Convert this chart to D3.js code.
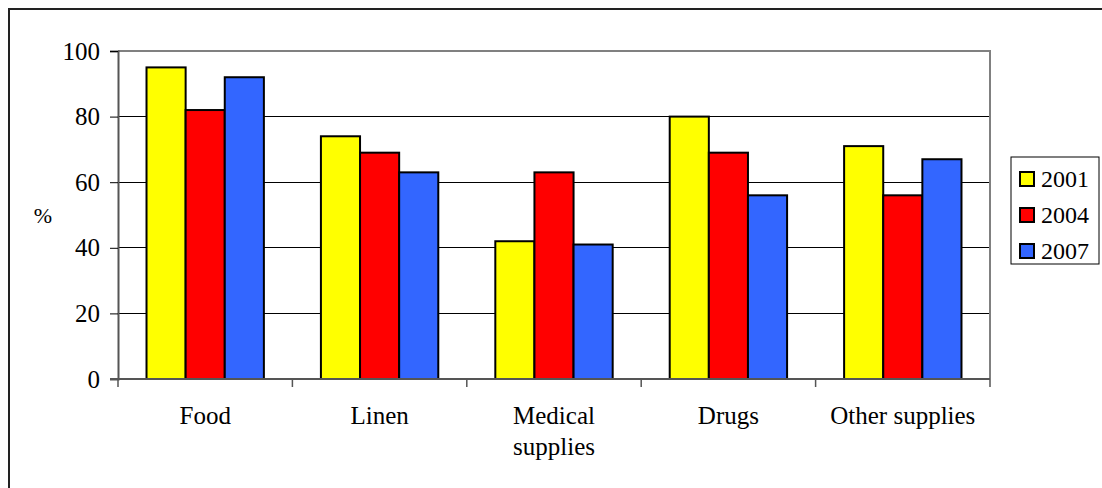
<!DOCTYPE html>
<html>
<head>
<meta charset="utf-8">
<script src="https://cdn.jsdelivr.net/npm/d3@7"></script>
<style>
  html, body { margin: 0; padding: 0; background: #fff; }
  svg { display: block; }
  svg text { font-family: "Liberation Serif", "Times New Roman", serif !important; fill: #000; }
</style>
</head>
<body>
<svg id="chart" width="1102" height="488"></svg>
<script>
// Share of items supplied, by category and survey year (%)
const categories = ["Food", "Linen", "Medical supplies", "Drugs", "Other supplies"];
const years = ["2001", "2004", "2007"];
const values2001 = [95, 74, 42, 80, 71];
const values2004 = [82, 69, 63, 69, 56];
const values2007 = [92, 63, 41, 56, 67];
const yTicks = [0, 20, 40, 60, 80, 100];
const colors = ["#FFFF00", "#FF0000", "#3366FF"];

const seriesValues = [values2001, values2004, values2007];
const rows = categories.map((c, i) => ({
  category: c,
  values: years.map((y, j) => ({ year: y, value: seriesValues[j][i], color: colors[j] }))
}));

const svg = d3.select("#chart");
const margin = { left: 118, right: 1102 - 990, top: 51, bottom: 488 - 379 };
const width = 1102, height = 488;

// Outer frame (top and left edges visible)
svg.append("path")
  .attr("d", `M9,${height} L9,9 L${width},9`)
  .attr("fill", "none").attr("stroke", "#222").attr("stroke-width", 2);

const x0 = d3.scaleBand()
  .domain(categories)
  .range([margin.left, width - margin.right])
  .paddingInner(0.327).paddingOuter(0.1635);
const x1 = d3.scaleBand().domain(years).range([0, x0.bandwidth()]);
const y = d3.scaleLinear().domain([0, 100]).range([height - margin.bottom, margin.top]);

// Horizontal gridlines
svg.append("g").selectAll("line")
  .data(yTicks.filter(t => t > 0 && t < 100))
  .join("line")
  .attr("x1", margin.left).attr("x2", width - margin.right)
  .attr("y1", d => y(d)).attr("y2", d => y(d))
  .attr("stroke", "#000").attr("stroke-width", 1).attr("shape-rendering", "crispEdges");

// Plot area frame (top and right)
svg.append("path")
  .attr("d", `M${margin.left},${y(100)} L${width - margin.right},${y(100)} L${width - margin.right},${y(0)}`)
  .attr("fill", "none").attr("stroke", "#808080").attr("stroke-width", 2);

// Bars
svg.append("g").selectAll("g")
  .data(rows)
  .join("g")
  .attr("transform", d => `translate(${x0(d.category)},0)`)
  .selectAll("rect")
  .data(d => d.values)
  .join("rect")
  .attr("x", d => x1(d.year))
  .attr("width", x1.bandwidth())
  .attr("y", d => y(d.value))
  .attr("height", d => y(0) - y(d.value))
  .attr("fill", d => d.color)
  .attr("stroke", "#000").attr("stroke-width", 2);

// Y axis
const yAxis = svg.append("g")
  .attr("transform", `translate(${margin.left},0)`)
  .call(d3.axisLeft(y).tickValues(yTicks).tickSize(8).tickPadding(10).tickFormat(d3.format("d")));
yAxis.select(".domain").attr("stroke", "#555").attr("stroke-width", 2);
yAxis.selectAll(".tick line").attr("stroke", "#000");
yAxis.selectAll("text").attr("font-size", 25);

// X axis with ticks at category boundaries
const xAxisG = svg.append("g").attr("transform", `translate(0,${y(0)})`);
xAxisG.append("line")
  .attr("x1", margin.left - 8).attr("x2", width - margin.right)
  .attr("y1", 0).attr("y2", 0)
  .attr("stroke", "#555").attr("stroke-width", 2);
const boundaries = d3.range(categories.length + 1).map(i => margin.left + i * (width - margin.left - margin.right) / categories.length);
xAxisG.selectAll("line.tk")
  .data(boundaries)
  .join("line").attr("class", "tk")
  .attr("x1", d => d).attr("x2", d => d)
  .attr("y1", 0).attr("y2", 8)
  .attr("stroke", "#555").attr("stroke-width", 1.5);

// Category labels (wrapped where needed)
const labelLines = { "Medical supplies": ["Medical", "supplies"] };
xAxisG.selectAll("text.cat")
  .data(categories)
  .join("text").attr("class", "cat")
  .attr("text-anchor", "middle")
  .attr("font-size", 25)
  .attr("x", d => x0(d) + x0.bandwidth() / 2)
  .attr("y", 45)
  .each(function (d) {
    const lines = labelLines[d] || [d];
    d3.select(this).selectAll("tspan")
      .data(lines)
      .join("tspan")
      .attr("x", x0(d) + x0.bandwidth() / 2)
      .attr("dy", (l, i) => i === 0 ? 0 : 31)
      .text(l => l);
  });

// Y axis title
svg.append("text")
  .attr("x", 43).attr("y", 223)
  .attr("text-anchor", "middle")
  .attr("font-size", 22)
  .text("%");

// Legend
const legend = svg.append("g").attr("transform", "translate(1011,157)");
legend.append("rect")
  .attr("width", 88).attr("height", 107)
  .attr("fill", "#fff").attr("stroke", "#000").attr("stroke-width", 1);
const items = legend.selectAll("g.item")
  .data(years.map((yr, i) => ({ yr, color: colors[i] })))
  .join("g").attr("class", "item")
  .attr("transform", (d, i) => `translate(0,${22 + i * 36})`);
items.append("rect")
  .attr("x", 9).attr("y", -7).attr("width", 14).attr("height", 14)
  .attr("fill", d => d.color).attr("stroke", "#000").attr("stroke-width", 2);
items.append("text")
  .attr("x", 30).attr("y", 8)
  .attr("font-size", 24)
  .text(d => d.yr);
</script>
</body>
</html>
